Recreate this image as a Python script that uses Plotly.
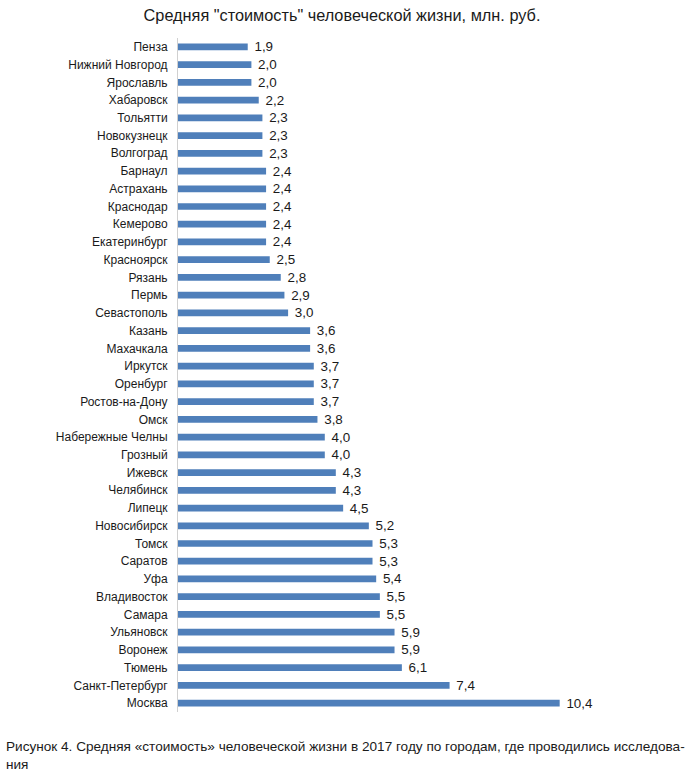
import plotly.graph_objects as go

cities = ["Пенза", "Нижний Новгород", "Ярославль", "Хабаровск", "Тольятти", "Новокузнецк",
          "Волгоград", "Барнаул", "Астрахань", "Краснодар", "Кемерово", "Екатеринбург",
          "Красноярск", "Рязань", "Пермь", "Севастополь", "Казань", "Махачкала", "Иркутск",
          "Оренбург", "Ростов-на-Дону", "Омск", "Набережные Челны", "Грозный", "Ижевск",
          "Челябинск", "Липецк", "Новосибирск", "Томск", "Саратов", "Уфа", "Владивосток",
          "Самара", "Ульяновск", "Воронеж", "Тюмень", "Санкт-Петербург", "Москва"]
values = [1.9, 2.0, 2.0, 2.2, 2.3, 2.3, 2.3, 2.4, 2.4, 2.4, 2.4, 2.4, 2.5, 2.8, 2.9, 3.0,
          3.6, 3.6, 3.7, 3.7, 3.7, 3.8, 4.0, 4.0, 4.3, 4.3, 4.5, 5.2, 5.3, 5.3, 5.4, 5.5,
          5.5, 5.9, 5.9, 6.1, 7.4, 10.4]

title = 'Средняя "стоимость" человеческой жизни, млн. руб.'
caption = ("Рисунок 4. Средняя «стоимость» человеческой жизни в 2017 году по городам, где проводились исследова-<br>"
           "ния")

labels = ["\u00a0" + f"{v:.1f}".replace(".", ",") for v in values]

W, H = 695, 779
L, R, T, B = 178, 45, 38, 67
PW = W - L - R
PH = H - T - B

fig = go.Figure(go.Bar(
    x=values, y=cities, orientation="h",
    marker=dict(color="#4f7fba", line=dict(width=0)),
    text=labels, textposition="outside", cliponaxis=False, constraintext="none",
    textfont=dict(family="Liberation Sans, Arial", size=13.4, color="#1a1a1a"),
    hoverinfo="skip",
))

fig.update_layout(
    width=W, height=H,
    margin=dict(l=L, r=R, t=T, b=B, autoexpand=False),
    paper_bgcolor="white", plot_bgcolor="white",
    bargap=0.62,
    showlegend=False,
    font=dict(family="Liberation Sans, Arial", color="#1a1a1a"),
    title=dict(text=title, x=342 / W, xref="container", xanchor="center",
               y=1 - 15 / H, yref="container", yanchor="middle",
               font=dict(family="Liberation Sans, Arial", size=16.3, color="#1a1a1a")),
)
fig.add_annotation(text=caption, xref="paper", yref="paper", x=-(L - 4) / PW, y=(PH - (737 - T)) / PH,
                   xanchor="left", yanchor="top", align="left", showarrow=False,
                   font=dict(family="Liberation Sans, Arial", size=13.6, color="#1a1a1a"))
fig.update_xaxes(range=[0, PW / 36.7], visible=False, showgrid=False)
fig.update_yaxes(autorange="reversed", showgrid=False, showline=True, linecolor="#d0d0d0",
                 linewidth=1, ticks="", ticklabelstandoff=7,
                 tickfont=dict(family="Liberation Sans, Arial", size=12, color="#1a1a1a"))

fig.write_html("out.html", config={"displayModeBar": False},
               post_script="document.body.style.margin='0';")
